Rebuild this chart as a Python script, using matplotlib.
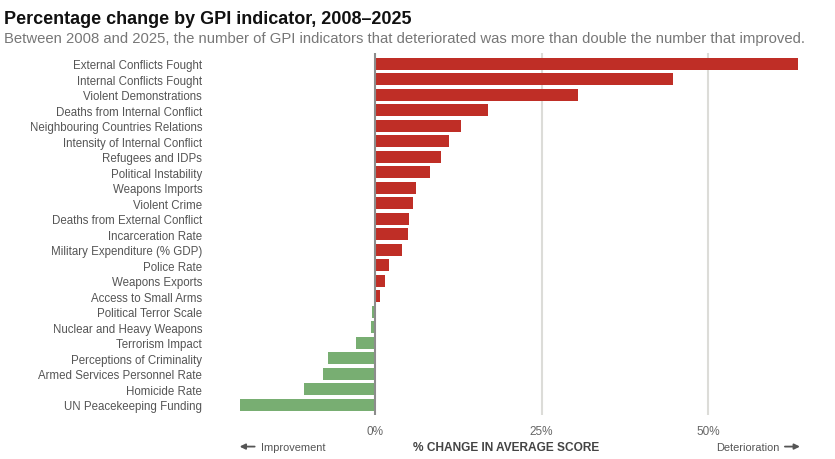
import matplotlib
matplotlib.use('Agg')
import matplotlib.pyplot as plt

indicators = ['External Conflicts Fought', 'Internal Conflicts Fought', 'Violent Demonstrations',
              'Deaths from Internal Conflict', 'Neighbouring Countries Relations',
              'Intensity of Internal Conflict', 'Refugees and IDPs', 'Political Instability',
              'Weapons Imports', 'Violent Crime', 'Deaths from External Conflict',
              'Incarceration Rate', 'Military Expenditure (% GDP)', 'Police Rate',
              'Weapons Exports', 'Access to Small Arms', 'Political Terror Scale',
              'Nuclear and Heavy Weapons', 'Terrorism Impact', 'Perceptions of Criminality',
              'Armed Services Personnel Rate', 'Homicide Rate', 'UN Peacekeeping Funding']
change = [63.5, 44.7, 30.5, 17.0, 12.9, 11.1, 9.9, 8.3, 6.2, 5.7, 5.1, 5.0, 4.0, 2.1,
          1.5, 0.75, -0.45, -0.65, -2.9, -7.0, -7.8, -10.7, -20.3]
xticks = [0, 25, 50]
xtick_labels = ['0%', '25%', '50%']

plt.rcParams['font.family'] = ['Liberation Sans', 'DejaVu Sans']

red = '#bf2e26'
green = '#78ae72'

fig = plt.figure(figsize=(8.35, 4.6), dpi=100)
ax = fig.add_axes([0.2737, 0.0957, 0.686, 0.787])

colors = [red if v > 0 else green for v in change]
ypos = list(range(len(indicators)))
ax.barh(ypos, change, height=0.77, color=colors, zorder=3)

ax.set_xlim(-22, 64)
ax.set_ylim(22.65, -0.71)
ax.set_yticks(ypos)
ax.set_yticklabels(indicators, fontsize=8.3, color='#555555')
ax.set_xticks(xticks)
ax.set_xticklabels(xtick_labels, fontsize=8.5, color='#666666')
ax.tick_params(axis='both', length=0)
ax.tick_params(axis='y', pad=19)
ax.tick_params(axis='x', pad=7)

for x in xticks[1:]:
    ax.axvline(x, color='#dcdcd8', lw=1.5, zorder=1)
ax.axvline(0, color='#8c8c8c', lw=1.5, zorder=4)

for s in ax.spines.values():
    s.set_visible(False)

fig.text(0.005, 0.975, 'Percentage change by GPI indicator, 2008\u20132025', fontsize=13,
         fontweight='bold', color='#111111', va='top', ha='left')
fig.text(0.005, 0.93, 'Between 2008 and 2025, the number of GPI indicators that deteriorated '
         'was more than double the number that improved.', fontsize=10.7, color='#777777',
         va='top', ha='left')

# bottom captions with arrows
yb = 0.027
arrow = dict(arrowstyle='-|>', color='#555555', lw=1.3, mutation_scale=8, shrinkA=0, shrinkB=0)
fig.text(0.312, yb, 'Improvement', fontsize=7.9, color='#555555', ha='left', va='center')
ax.annotate('', xy=(0.287, yb), xytext=(0.305, yb), xycoords='figure fraction', arrowprops=arrow)
fig.text(0.606, yb, '% CHANGE IN AVERAGE SCORE', fontsize=8.6, fontweight='bold',
         color='#444444', ha='center', va='center')
fig.text(0.933, yb, 'Deterioration', fontsize=7.9, color='#555555', ha='right', va='center')
ax.annotate('', xy=(0.958, yb), xytext=(0.940, yb), xycoords='figure fraction', arrowprops=arrow)

fig.savefig('out.png', dpi=100)
